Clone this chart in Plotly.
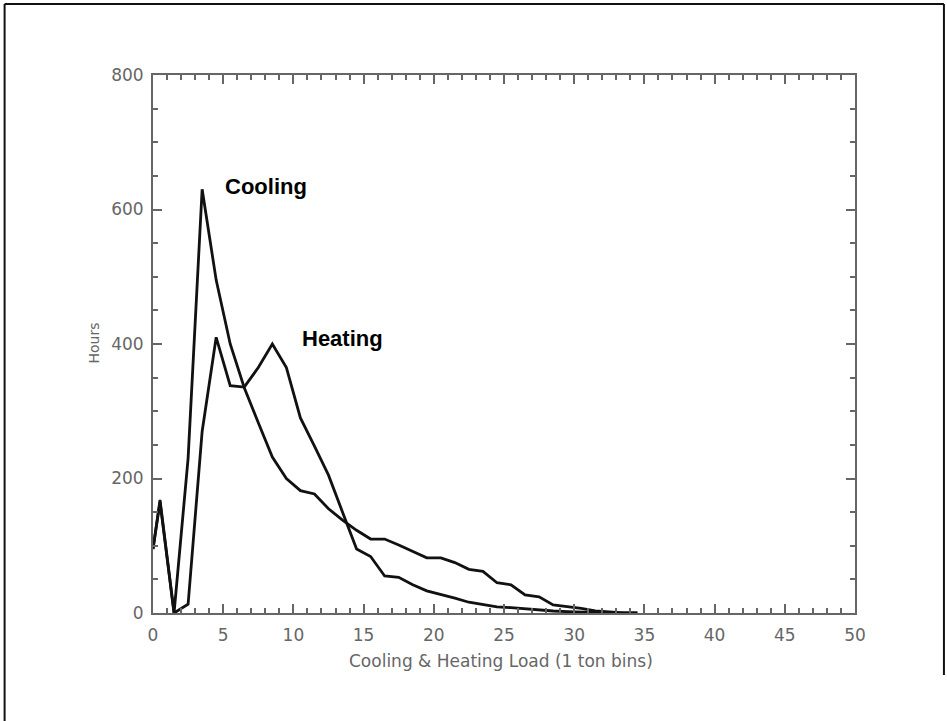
import plotly.graph_objects as go

# ---- data ----
load_bins = [0, 0.5, 1.5, 2.5, 3.5, 4.5, 5.5, 6.5, 7.5, 8.5, 9.5, 10.5, 11.5, 12.5,
             13.5, 14.5, 15.5, 16.5, 17.5, 18.5, 19.5, 20.5, 21.5, 22.5, 23.5, 24.5,
             25.5, 26.5, 27.5, 28.5, 29.5, 30.5, 31.5, 32.5, 33.5, 34.5]
cooling_hours = [95, 168, 0, 230, 630, 495, 400, 335, 283, 232, 200, 182, 177, 155,
                 138, 123, 110, 110, 101, 91, 82, 82, 75, 65, 62, 45,
                 42, 27, 24, 12, 10, 7, 3, 1, 0, 0]
heating_hours = [95, 165, 0, 13, 270, 410, 338, 336, 365, 400, 365, 290, 248, 205,
                 150, 95, 84, 55, 53, 42, 33, 28, 22, 16, 12, 9,
                 8, 6, 5, 3, 2, 1, 0, 0, 0, 0]
x_ticks = [0, 5, 10, 15, 20, 25, 30, 35, 40, 45, 50]
y_ticks = [0, 200, 400, 600, 800]

W, H = 947, 721
L, R, T, B = 152.5, 855, 75, 613

def px(x):
    return (x - L) / (R - L)

def py(y):
    return (B - y) / (B - T)

line_style = dict(color="#111111", width=2.8)
fig = go.Figure()
fig.add_trace(go.Scatter(x=load_bins, y=cooling_hours, mode="lines", line=line_style,
                         name="Cooling", showlegend=False))
fig.add_trace(go.Scatter(x=load_bins, y=heating_hours, mode="lines", line=line_style,
                         name="Heating", showlegend=False))

axis_col = "#666666"
tick_font = dict(family="DejaVu Sans", size=17, color="#666666")
fig.update_xaxes(range=[0, 50], tickvals=x_ticks, showgrid=False, zeroline=False,
                 showline=True, linecolor=axis_col, linewidth=2, mirror="ticks",
                 ticks="inside", ticklen=9, tickwidth=1.5, tickcolor=axis_col,
                 minor=dict(dtick=1, ticks="inside", ticklen=5, tickcolor=axis_col, tickwidth=1.5),
                 tickfont=tick_font, ticklabelstandoff=6)
fig.update_yaxes(range=[0, 800], tickvals=y_ticks, showgrid=False, zeroline=False,
                 showline=True, linecolor=axis_col, linewidth=2, mirror="ticks",
                 ticks="inside", ticklen=9, tickwidth=1.5, tickcolor=axis_col,
                 minor=dict(dtick=50, ticks="inside", ticklen=5, tickcolor=axis_col, tickwidth=1.5),
                 tickfont=tick_font, ticklabelstandoff=4)

annotations = [
    dict(text="Cooling", x=4.95, y=634, xref="x", yref="y", xanchor="left", yanchor="middle",
         showarrow=False, font=dict(family="Liberation Sans, Arial", size=22, color="#000000", weight="bold")),
    dict(text="Heating", x=10.5, y=408, xref="x", yref="y", xanchor="left", yanchor="middle",
         showarrow=False, font=dict(family="Liberation Sans, Arial", size=22, color="#000000", weight="bold")),
    dict(text="Hours", x=px(93), y=py(343), xref="paper", yref="paper", xanchor="center",
         yanchor="middle", textangle=-90, showarrow=False,
         font=dict(family="DejaVu Sans", size=14, color="#666666")),
    dict(text="Cooling & Heating Load (1 ton bins)", x=px(501), y=py(661), xref="paper",
         yref="paper", xanchor="center", yanchor="middle", showarrow=False,
         font=dict(family="DejaVu Sans", size=17, color="#666666")),
]

border = dict(color="#111111", width=2)
shapes = [
    dict(type="line", xref="paper", yref="paper", x0=px(4), x1=px(4), y0=py(4), y1=py(721), line=border),
    dict(type="line", xref="paper", yref="paper", x0=px(4), x1=px(944), y0=py(4), y1=py(4), line=border),
    dict(type="line", xref="paper", yref="paper", x0=px(944), x1=px(944), y0=py(4), y1=py(675), line=border),
]

fig.update_layout(width=W, height=H, autosize=False,
                  margin=dict(l=L, r=W - R, t=T, b=H - B, pad=0),
                  paper_bgcolor="white", plot_bgcolor="white",
                  annotations=annotations, shapes=shapes, showlegend=False)

fig.write_html("out.html", config={"displayModeBar": False},
               post_script="document.body.style.margin='0';document.body.style.overflow='hidden';")
